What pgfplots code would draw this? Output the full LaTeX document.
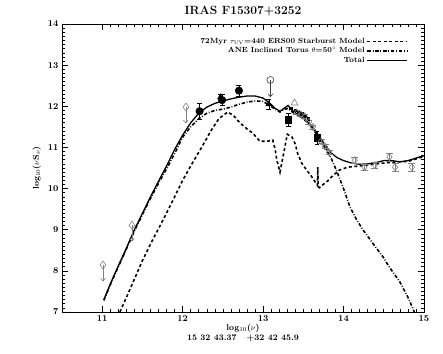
\documentclass[border=0pt]{standalone}
\usepackage{pgfplots}
\pgfplotsset{compat=1.18}
\usetikzlibrary{arrows.meta}

\pgfplotstableread{
x y
11.02 7.30
11.10 7.68
11.20 8.12
11.30 8.55
11.40 9.00
11.50 9.40
11.60 9.80
11.70 10.18
11.80 10.55
11.90 10.95
12.00 11.30
12.10 11.60
12.20 11.83
12.30 11.98
12.40 12.07
12.50 12.13
12.60 12.18
12.70 12.22
12.80 12.25
12.90 12.25
13.00 12.20
13.08 12.08
13.15 11.95
13.21 11.88
13.26 11.95
13.31 12.02
13.37 11.88
13.45 11.78
13.54 11.65
13.60 11.52
13.67 11.35
13.73 11.18
13.79 11.00
13.85 10.86
13.92 10.75
14.00 10.68
14.10 10.62
14.20 10.59
14.30 10.60
14.40 10.63
14.50 10.68
14.60 10.68
14.70 10.65
14.80 10.68
14.90 10.74
15.00 10.80
}\total

\pgfplotstableread{
x y
11.22 7.00
11.30 7.35
11.40 7.80
11.50 8.25
11.60 8.65
11.72 9.10
11.85 9.60
12.00 10.20
12.10 10.55
12.25 11.05
12.35 11.40
12.45 11.70
12.56 11.86
12.63 11.78
12.71 11.60
12.80 11.45
12.87 11.35
12.96 11.15
13.05 11.15
13.12 11.18
13.15 10.95
13.17 10.70
13.21 10.40
13.24 10.70
13.27 11.00
13.30 11.32
13.36 11.25
13.40 11.08
13.43 10.85
13.48 10.62
13.54 10.45
13.60 10.30
13.64 10.18
13.675 10.08
13.68 10.52
13.685 10.05
13.70 10.02
13.74 10.09
13.80 10.18
13.87 10.32
13.95 10.45
14.05 10.52
14.20 10.55
14.40 10.60
14.60 10.64
14.80 10.66
15.00 10.78
}\starburst

\pgfplotstableread{
x y
11.02 7.28
11.10 7.66
11.20 8.10
11.30 8.53
11.40 8.97
11.50 9.37
11.60 9.76
11.70 10.13
11.80 10.48
11.90 10.85
12.00 11.25
12.10 11.50
12.20 11.70
12.30 11.83
12.40 11.90
12.50 11.93
12.60 11.98
12.70 12.05
12.80 12.10
12.90 12.13
13.00 12.12
13.08 12.02
13.15 11.93
13.21 11.86
13.26 11.92
13.31 11.95
13.37 11.85
13.45 11.76
13.54 11.63
13.60 11.50
13.67 11.30
13.73 11.12
13.79 10.93
13.85 10.72
13.92 10.40
14.00 10.00
14.08 9.55
14.16 9.25
14.24 9.00
14.36 8.68
14.49 8.34
14.57 8.09
14.70 7.73
14.80 7.36
14.88 7.00
}\torus

\begin{document}
\begin{tikzpicture}
\useasboundingbox (-62bp,-42bp) rectangle (381bp,312bp);
\begin{axis}[
    scale only axis,
    width=362bp, height=288bp,
    xmin=10.5, xmax=15, ymin=7, ymax=14,
    xtick={11,12,13,14,15}, ytick={7,8,9,10,11,12,13,14},
    minor x tick num=9, minor y tick num=9,
    major tick length=6bp, minor tick length=3bp,
    tick style={black, line width=0.6pt},
    axis line style={line width=0.8pt},
    /pgf/number format/assume math mode=true,
    tick label style={font=\fontsize{9}{10}\bfseries},
    title={IRAS F15307+3252},
    title style={font=\fontsize{12}{14}\bfseries, yshift=-2bp},
    xlabel={log$_{10}$($\nu$)\\15 32 43.37 \ \ +32 42 45.9},
    xlabel style={font=\fontsize{8.5}{9.5}\bfseries, align=center, yshift=4bp},
    ylabel={log$_{10}$($\nu$S$_\nu$)},
    ylabel style={font=\fontsize{8.5}{10}\bfseries},
    legend style={at={(0.965,0.965)}, anchor=north east, draw=none, fill=none,
        font=\fontsize{7.5}{9}\bfseries, row sep=-1.5pt},
    legend cell align=right,
    legend plot pos=right,
    legend image code/.code={\draw[#1] (0bp,0bp) -- (40bp,0bp);},
    clip=true,
]
\addplot[black, line width=1.6pt, dash pattern=on 3pt off 2.5pt] table {\starburst};
\addlegendentry{72Myr $\tau_{\mathrm{UV}}$=440 ERS00 Starburst Model}
\addplot[black, line width=1.6pt, dash pattern=on 3.5pt off 1.8pt on 0.8pt off 1.8pt] table {\torus};
\addlegendentry{ANE Inclined Torus $\theta$=50$^\circ$ Model}
\addplot[black, line width=1.3pt] table {\total};
\addlegendentry{Total}

% upper limits
\addplot[gray, line width=0.6pt, quiver={u=0, v=-0.40}, -{Straight Barb[length=3pt, width=5pt]}, forget plot]
    coordinates {(11.01,8.14) (11.37,9.11) (12.04,11.98)};
\addplot[gray, only marks, mark=diamond, mark size=4pt, mark options={fill=white, line width=0.6pt}, forget plot]
    coordinates {(11.01,8.14) (11.37,9.11) (12.04,11.98)};
\addplot[darkgray, line width=0.6pt, quiver={u=0, v=-0.42}, -{Straight Barb[length=3pt, width=5pt]}, forget plot]
    coordinates {(13.09,12.64)};
\addplot[darkgray, only marks, mark=o, mark size=3.5pt, mark options={fill=white, line width=0.6pt}, forget plot]
    coordinates {(13.09,12.64)};

% detections
\addplot[black, only marks, mark=*, mark size=3.8pt, forget plot,
    error bars/.cd, y dir=both, y explicit,
    error mark options={rotate=90, mark size=2.5pt, line width=0.6pt},
    error bar style={line width=0.6pt}]
    coordinates {(12.21,11.88) +- (0,0.20) (12.49,12.15) +- (0,0.13) (12.70,12.38) +- (0,0.14)};
\addplot[black, only marks, mark=triangle*, mark size=3.5pt, forget plot,
    error bars/.cd, y dir=both, y explicit,
    error mark options={rotate=90, mark size=2.5pt, line width=0.6pt}]
    coordinates {(12.47,12.22) +- (0,0.08) (13.07,12.05) +- (0,0.12)};
\addplot[gray, only marks, mark=triangle, mark size=4pt, mark options={line width=0.6pt}, forget plot]
    coordinates {(13.39,12.08)};
\addplot[black, only marks, mark=square*, mark size=3.3pt, forget plot,
    error bars/.cd, y dir=both, y explicit,
    error mark options={rotate=90, mark size=2.5pt, line width=0.6pt}]
    coordinates {(13.31,11.67) +- (0,0.15) (13.67,11.23) +- (0,0.15)};
\addplot[black, only marks, mark=square*, mark size=1.3pt, forget plot]
    coordinates {(13.34,11.95) (13.40,11.90) (13.44,11.86) (13.48,11.82) (13.52,11.76) (13.56,11.70)};
\addplot[gray, only marks, mark=diamond, mark size=3.5pt, mark options={line width=0.6pt}, forget plot,
    error bars/.cd, y dir=both, y explicit, error bar style={gray, line width=0.6pt}]
    coordinates {
    (13.42,11.85) +- (0,0.05) (13.47,11.80) +- (0,0.05) (13.52,11.76) +- (0,0.05)
    (13.57,11.62) +- (0,0.05) (13.62,11.50) +- (0,0.05) (13.72,11.15) +- (0,0.05)
    (13.77,11.02) +- (0,0.05) (13.82,10.88) +- (0,0.05)
    (14.14,10.69) +- (0,0.08) (14.26,10.52) +- (0,0.08) (14.39,10.57) +- (0,0.08)
    (14.57,10.77) +- (0,0.10) (14.64,10.52) +- (0,0.10) (14.85,10.52) +- (0,0.10)};
\end{axis}
\end{tikzpicture}
\end{document}
